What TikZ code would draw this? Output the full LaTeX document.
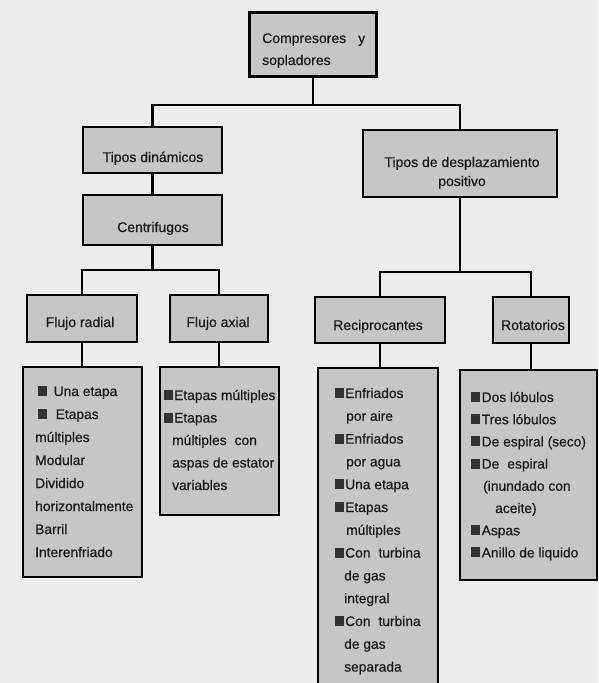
\documentclass[tikz,border=0pt]{standalone}
\usepackage{fontspec}
\setmainfont{Liberation Sans}[FakeBold=0.5]
\definecolor{bg}{RGB}{236,236,236}
\definecolor{boxc}{RGB}{198,198,198}
\definecolor{bulc}{RGB}{50,50,50}
\newcommand\bul{\textcolor{bulc}{\rule{8.5pt}{10pt}}}
\begin{document}
\begin{tikzpicture}[x=1pt,y=-1pt,
  hbox/.style={draw=black, line width=2.5pt, fill=boxc, inner sep=0pt},
  lbl/.style={font=\fontsize{14}{16}\selectfont, inner sep=0pt, text=black!90},
  li/.style={font=\fontsize{13.8}{16}\selectfont, inner sep=0pt, anchor=base west, text=black!90},
  con/.style={line width=2.2pt}]
\fill[bg] (0,0) rectangle (598,683);
\clip (0,0) rectangle (598,683);
% header boxes
\node[hbox, minimum width=127pt, minimum height=64pt] (top) at (313,44.5) {};
\node[hbox, minimum width=139pt, minimum height=46pt] (dyn) at (152.5,150) {};
\node[hbox, minimum width=139pt, minimum height=50pt] (cent) at (152.5,220) {};
\node[hbox, minimum width=194pt, minimum height=67pt] (disp) at (460,163.5) {};
\node[hbox, minimum width=110pt, minimum height=47pt] (radial) at (82,318.5) {};
\node[hbox, minimum width=98pt, minimum height=47pt] (axial) at (219,318.5) {};
\node[hbox, minimum width=130pt, minimum height=46pt] (recip) at (380,320) {};
\node[hbox, minimum width=76pt, minimum height=46pt] (rot) at (531,320) {};
% list boxes
\node[hbox, minimum width=119pt, minimum height=210pt] (radlist) at (82.5,472) {};
\node[hbox, minimum width=119pt, minimum height=148pt] (axlist) at (219.5,441) {};
\node[hbox, minimum width=120pt, minimum height=332pt] (reclist) at (378,534) {};
\node[hbox, minimum width=137pt, minimum height=210pt] (rotlist) at (528.5,475) {};
% connectors
\coordinate (j1) at (313,105);
\coordinate (j2) at (152.5,270);
\coordinate (j3) at (460,272);
\draw[con] (top.south) -- (j1);
\draw[con] (dyn.north) |- (j1) -| (disp.north);
\draw[con] (dyn.south) -- (cent.north);
\draw[con] (cent.south) -- (j2);
\draw[con] (radial.north) |- (j2) -| (axial.north);
\draw[con] (disp.south) -- (j3);
\draw[con] (recip.north) |- (j3) -| (rot.north);
\draw[con] (radial.south) -- (radial.south |- radlist.north);
\draw[con] (axial.south) -- (axial.south |- axlist.north);
\draw[con] (recip.south) -- (recip.south |- reclist.north);
\draw[con] (rot.south) -- (rot.south |- rotlist.north);
% header labels
\node[lbl, anchor=base west] (t-top1) at (262,43) {Compresores\hspace{12pt}y};
\node[lbl, anchor=base west] (t-top2) at (262,65) {sopladores};
\node[lbl, anchor=base] (t-dyn) at (153,162) {Tipos dinámicos};
\node[lbl, anchor=base] (t-cent) at (153,232) {Centrifugos};
\node[lbl, anchor=base] (t-disp1) at (462,167) {Tipos de desplazamiento};
\node[lbl, anchor=base] (t-disp2) at (462,186) {positivo};
\node[lbl, anchor=base] (t-radial) at (80,327) {Flujo radial};
\node[lbl, anchor=base] (t-axial) at (218,327) {Flujo axial};
\node[lbl, anchor=base] (t-recip) at (378,330) {Reciprocantes};
\node[lbl, anchor=base] (t-rot) at (533,330) {Rotatorios};
% radial list
\node[li] (r1) at (38,396) {\bul\hspace{7pt}Una etapa};
\node[li] (r2) at (38,419) {\bul\hspace{9pt}Etapas};
\node[li] (r3) at (35,442) {múltiples};
\node[li] (r4) at (35,465) {Modular};
\node[li] (r5) at (35,488) {Dividido};
\node[li] (r6) at (35,511) {horizontalmente};
\node[li] (r7) at (35,534) {Barril};
\node[li] (r8) at (35,557) {Interenfriado};
% axial list
\node[li] (a1) at (164,400) {\bul\hspace{1.5pt}Etapas múltiples};
\node[li] (a2) at (164,422.5) {\bul\hspace{1.5pt}Etapas};
\node[li] (a3) at (172,445) {múltiples\hspace{8pt}con};
\node[li] (a4) at (172,467.5) {aspas de estator};
\node[li] (a5) at (172,490) {variables};
% reciprocantes list
\node[li] (c1) at (335,398) {\bul\hspace{1.5pt}Enfriados};
\node[li] (c2) at (346,420.8) {por aire};
\node[li] (c3) at (335,443.6) {\bul\hspace{1.5pt}Enfriados};
\node[li] (c4) at (346,466.4) {por agua};
\node[li] (c5) at (335,489.2) {\bul\hspace{1.5pt}Una etapa};
\node[li] (c6) at (335,512) {\bul\hspace{1.5pt}Etapas};
\node[li] (c7) at (346,534.8) {múltiples};
\node[li] (c8) at (335,557.6) {\bul\hspace{1.5pt}Con\hspace{8pt}turbina};
\node[li] (c9) at (344,580.4) {de gas};
\node[li] (c10) at (344,603.2) {integral};
\node[li] (c11) at (335,626) {\bul\hspace{1.5pt}Con\hspace{8pt}turbina};
\node[li] (c12) at (344,648.8) {de gas};
\node[li] (c13) at (344,671.6) {separada};
% rotatorios list
\node[li] (o1) at (471,402) {\bul\hspace{2pt}Dos lóbulos};
\node[li] (o2) at (471,424.2) {\bul\hspace{2pt}Tres lóbulos};
\node[li] (o3) at (471,446.4) {\bul\hspace{2pt}De espiral (seco)};
\node[li] (o4) at (471,468.6) {\bul\hspace{2pt}De\hspace{8pt}espiral};
\node[li] (o5) at (483,490.8) {(inundado con};
\node[li] (o6) at (495,513) {aceite)};
\node[li] (o7) at (471,535.2) {\bul\hspace{2pt}Aspas};
\node[li] (o8) at (471,557.4) {\bul\hspace{2pt}Anillo de liquido};
\end{tikzpicture}
\end{document}
